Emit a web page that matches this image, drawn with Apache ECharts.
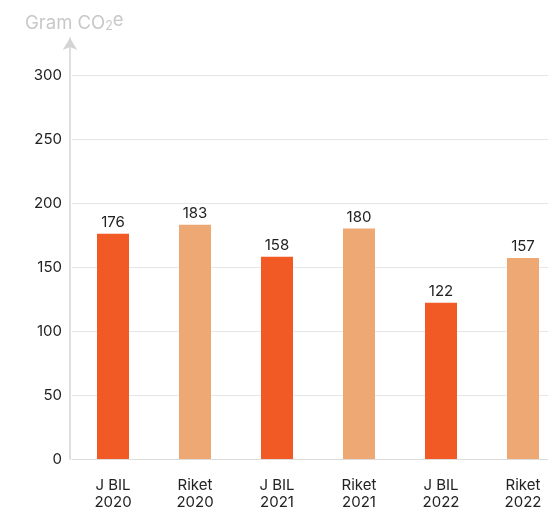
<!DOCTYPE html>
<html>
<head>
<meta charset="utf-8">
<script src="https://cdn.jsdelivr.net/npm/echarts@6/dist/echarts.min.js"></script>
<style>html,body{margin:0;padding:0;background:#fff}#c{width:548px;height:507px}</style>
</head>
<body>
<div id="c"></div>
<script>
const categories = ['J BIL\n2020', 'Riket\n2020', 'J BIL\n2021', 'Riket\n2021', 'J BIL\n2022', 'Riket\n2022'];
const values = [176, 183, 158, 180, 122, 157];
const barColors = ['#F15A24', '#EDA873', '#F15A24', '#EDA873', '#F15A24', '#EDA873'];
const yTicks = [0, 50, 100, 150, 200, 250, 300];
const unitParts = ['Gram CO', '2', 'e'];

const FONT = 'Inter, Lato, sans-serif';
const GREY = '#c8c8c8';
const chart = echarts.init(document.getElementById('c'), null, {renderer: 'canvas'});
chart.setOption({
  animation: false,
  title: {
    text: '{a|' + unitParts[0] + '}{s|' + unitParts[1] + '}{e|' + unitParts[2] + '}',
    left: 20, top: 5,
    textStyle: {
      color: GREY, fontSize: 18.5, fontWeight: 'normal', fontFamily: FONT,
      rich: {
        a: {color: GREY, fontSize: 18.5, fontFamily: FONT, lineHeight: 26},
        s: {color: GREY, fontSize: 12.5, fontFamily: FONT, padding: [6, 0, 0, 0]},
        e: {color: GREY, fontSize: 18.5, fontFamily: FONT, padding: [0, 0, 5, 0]}
      }
    }
  },
  grid: [
    {left: 72, width: 492, top: 75, bottom: 48, containLabel: false, outerBoundsMode: 'none'},
    {left: 70, width: 492, top: 38, bottom: 48, containLabel: false, outerBoundsMode: 'none'}
  ],
  xAxis: [
    {
      type: 'category', gridIndex: 0, data: categories,
      axisLine: {show: true, lineStyle: {color: '#dcdcdc', width: 1}},
      axisTick: {show: false},
      axisLabel: {color: '#222', fontSize: 15, fontFamily: FONT, margin: 18, lineHeight: 17}
    },
    {type: 'category', gridIndex: 1, data: categories, show: false}
  ],
  yAxis: [
    {
      type: 'value', gridIndex: 0, min: yTicks[0], max: yTicks[yTicks.length - 1], interval: 50,
      axisLine: {show: false}, axisTick: {show: false},
      splitLine: {lineStyle: {color: '#e6e6e6', width: 1}},
      axisLabel: {color: '#222', fontSize: 15, fontFamily: FONT, margin: 10}
    },
    {
      type: 'value', gridIndex: 1, min: 0, max: 1,
      axisLine: {show: true, symbol: ['none', 'arrow'], symbolSize: [11, 12], symbolOffset: [0, 0],
        lineStyle: {color: '#d4d4d4', width: 1.5}},
      axisTick: {show: false}, axisLabel: {show: false}, splitLine: {show: false}
    }
  ],
  series: [{
    type: 'bar', xAxisIndex: 0, yAxisIndex: 0,
    data: values.map((v, i) => ({value: v, itemStyle: {color: barColors[i]}})),
    barWidth: 32,
    label: {show: true, position: 'top', distance: 4, color: '#222', fontSize: 15, fontFamily: FONT}
  }]
});
</script>
</body>
</html>
